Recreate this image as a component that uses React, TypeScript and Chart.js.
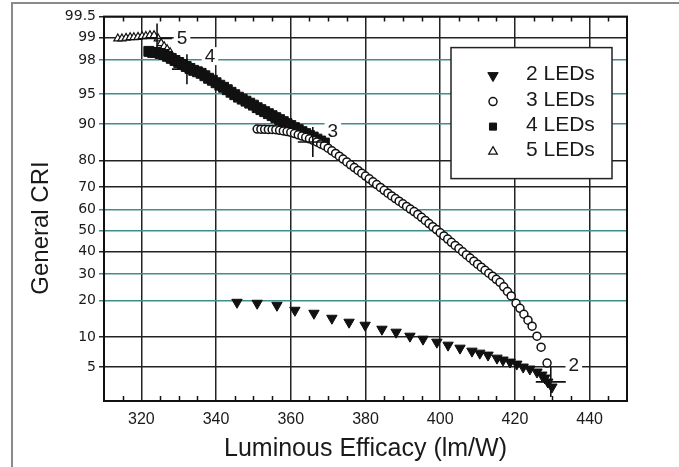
import React, { useEffect, useRef } from 'react';
import { Chart, registerables, LinearScale } from 'chart.js';
import { drawPoint } from 'chart.js/helpers';

// ---------------- data ----------------
const xTickValues = [320, 340, 360, 380, 400, 420, 440];
const yTickValues = [5, 10, 20, 30, 40, 50, 60, 70, 80, 90, 95, 98, 99, 99.5];

const leds2Efficacy = [345.6, 351.0, 356.3, 361.1, 366.2, 371.0, 375.6, 379.9, 384.4, 388.2, 391.9, 395.4, 399.1, 402.1, 405.3, 408.5, 410.6, 412.8, 415.2, 416.8, 418.7, 420.5, 422.2, 424.0, 425.9, 427.2, 428.0, 428.8, 429.9];
const leds2CRI = [19.35, 19.03, 18.38, 16.83, 15.94, 14.52, 13.46, 12.69, 11.72, 11.03, 10.15, 9.53, 8.93, 8.36, 7.82, 7.31, 6.98, 6.67, 6.21, 5.93, 5.65, 5.38, 5.0, 4.76, 4.41, 4.08, 3.78, 3.4, 2.97];

const leds3Efficacy = [351, 352, 353, 354, 355, 356, 357, 358, 359, 360, 361, 362, 363, 364, 365, 366, 367, 368, 369, 370, 371, 372, 373, 374, 375, 376, 377, 378, 379, 380, 381, 382, 383, 384, 385, 386, 387, 388, 389, 390, 391, 392, 393, 394, 395, 396, 397, 398, 399, 400, 401, 402, 403, 404, 405, 406, 407, 408, 409, 410, 411, 412, 413, 414, 415, 416, 417, 418, 419, 420.3, 421.35, 422.4, 423.5, 424.6, 425.9, 427.0, 428.6];
const leds3CRI = [88.9, 88.87, 88.84, 88.82, 88.8, 88.75, 88.61, 88.47, 88.32, 88.14, 87.85, 87.53, 87.23, 86.9, 86.51, 86.12, 85.67, 85.14, 84.64, 83.92, 83.14, 82.32, 81.44, 80.51, 79.55, 78.54, 77.55, 76.54, 75.46, 74.39, 73.29, 72.14, 70.96, 69.8, 68.57, 67.33, 66.15, 64.96, 63.8, 62.62, 61.39, 60.19, 58.99, 57.68, 56.27, 54.8, 53.32, 51.84, 50.41, 48.88, 47.4, 45.87, 44.35, 42.84, 41.38, 39.89, 38.42, 37.01, 35.57, 34.24, 32.92, 31.59, 30.32, 29.08, 27.82, 26.62, 24.88, 23.12, 21.52, 19.02, 17.44, 15.65, 13.99, 12.45, 10.15, 8.0, 5.51];

const leds4Efficacy = [322, 323, 324, 325, 326, 327, 328, 329, 330, 331, 332, 333, 334, 335, 336, 337, 338, 339, 340, 341, 342, 343, 344, 345, 346, 347, 348, 349, 350, 351, 352, 353, 354, 355, 356, 357, 358, 359, 360, 361, 362, 363, 364, 365, 366, 367, 368, 369];
const leds4CRI = [98.45, 98.4, 98.4, 98.35, 98.3, 98.2, 98.09, 97.97, 97.85, 97.72, 97.59, 97.45, 97.31, 97.2, 97.08, 96.88, 96.66, 96.48, 96.24, 95.99, 95.77, 95.5, 95.2, 94.9, 94.58, 94.31, 94.03, 93.74, 93.44, 93.04, 92.72, 92.38, 92.03, 91.67, 91.29, 90.91, 90.51, 90.1, 89.68, 89.23, 88.78, 88.31, 87.84, 87.35, 86.97, 86.45, 85.93, 85.39];

const leds5Efficacy = [313.7, 314.8, 315.9, 317.0, 318.0, 319.1, 320.2, 321.2, 322.3, 323.4, 324.5, 325.3, 326.1, 326.9, 327.7];
const leds5CRI = [98.96, 98.96, 98.98, 99.0, 99.0, 99.01, 99.03, 99.04, 99.06, 99.06, 98.96, 98.79, 98.67, 98.54, 98.4];

const crossEfficacy = [324.2, 332.2, 365.9, 429.6];
const crossCRI = [98.96, 97.4, 85.67, 3.41];
const crossLabels = ['5', '4', '3', '2'];

const seriesNames = ['2 LEDs', '3 LEDs', '4 LEDs', '5 LEDs'];

// ---------------- styles ----------------
const TEAL = '#3f8d8c';
const DARK = '#222';
const yGridColors = [DARK, DARK, TEAL, TEAL, DARK, TEAL, TEAL, DARK, DARK, TEAL, TEAL, TEAL, DARK, DARK];
const crossLabelOffsets = [[25, -1], [23, -13], [20, -11], [23, -17]];
const FONT = '"Liberation Sans", Arial, Helvetica, sans-serif';

// ---------------- probability (probit) scale ----------------
function probit(p: number): number {
  const a = [-3.969683028665376e1, 2.209460984245205e2, -2.759285104469687e2, 1.38357751867269e2, -3.066479806614716e1, 2.506628277459239];
  const b = [-5.447609879822406e1, 1.615858368580409e2, -1.556989798598866e2, 6.680131188771972e1, -1.328068155288572e1];
  const c = [-7.784894002430293e-3, -3.223964580411365e-1, -2.400758277161838, -2.549732539343734, 4.374664141464968, 2.938163982698783];
  const d = [7.784695709041462e-3, 3.224671290700398e-1, 2.445134137142996, 3.754408661907416];
  const plow = 0.02425;
  const phigh = 1 - plow;
  if (p < plow) {
    const q = Math.sqrt(-2 * Math.log(p));
    return (((((c[0] * q + c[1]) * q + c[2]) * q + c[3]) * q + c[4]) * q + c[5]) / ((((d[0] * q + d[1]) * q + d[2]) * q + d[3]) * q + 1);
  }
  if (p <= phigh) {
    const q = p - 0.5;
    const r = q * q;
    return ((((((a[0] * r + a[1]) * r + a[2]) * r + a[3]) * r + a[4]) * r + a[5]) * q) / (((((b[0] * r + b[1]) * r + b[2]) * r + b[3]) * r + b[4]) * r + 1);
  }
  const q = Math.sqrt(-2 * Math.log(1 - p));
  return -(((((c[0] * q + c[1]) * q + c[2]) * q + c[3]) * q + c[4]) * q + c[5]) / ((((d[0] * q + d[1]) * q + d[2]) * q + d[3]) * q + 1);
}

function normCdf(z: number): number {
  const t = 1 / (1 + 0.2316419 * Math.abs(z));
  const dd = 0.3989423 * Math.exp((-z * z) / 2);
  const pr = dd * t * (0.3193815 + t * (-0.3565638 + t * (1.781478 + t * (-1.821256 + t * 1.330274))));
  return z > 0 ? 1 - pr : pr;
}

class ProbitScale extends (LinearScale as any) {
  static id = 'probit';
  static defaults = {};
  determineDataLimits() {
    this.min = probit(this.options.min / 100);
    this.max = probit(this.options.max / 100);
  }
  buildTicks() {
    return yTickValues.map((v) => ({ value: v }));
  }
  getPixelForValue(value: number) {
    const z = probit(value / 100);
    return this.getPixelForDecimal((z - this._startValue) / this._valueRange);
  }
  getValueForPixel(pixel: number) {
    const z = this._startValue + this.getDecimalForPixel(pixel) * this._valueRange;
    return normCdf(z) * 100;
  }
}

Chart.register(...registerables, ProbitScale as any);

const toPoints = (xs: number[], ys: number[]) => xs.map((x, i) => ({ x, y: ys[i] }));

// ---------------- plugins ----------------
const backgroundPlugin = {
  id: 'bgFrame',
  beforeDraw(chart: any) {
    const { ctx, width, height } = chart;
    ctx.save();
    ctx.fillStyle = '#fff';
    ctx.fillRect(0, 0, width, height);
    ctx.strokeStyle = '#8a8a8a';
    ctx.lineWidth = 2;
    ctx.beginPath();
    ctx.moveTo(12, height);
    ctx.lineTo(12, 3);
    ctx.lineTo(width, 3);
    ctx.stroke();
    ctx.restore();
  },
};

const crossLabelPlugin = {
  id: 'crossLabels',
  beforeDatasetsDraw(chart: any) {
    const { ctx, scales } = chart;
    ctx.save();
    ctx.font = `19px ${FONT}`;
    ctx.textAlign = 'center';
    ctx.textBaseline = 'middle';
    crossLabels.forEach((lab, i) => {
      const px = scales.x.getPixelForValue(crossEfficacy[i]) + crossLabelOffsets[i][0];
      const py = scales.y.getPixelForValue(crossCRI[i]) + crossLabelOffsets[i][1];
      const w = ctx.measureText(lab).width;
      ctx.fillStyle = '#fff';
      ctx.fillRect(px - w / 2 - 3, py - 9, w + 6, 18);
      ctx.fillStyle = '#1a1a1a';
      ctx.fillText(lab, px, py + 1);
    });
    ctx.restore();
  },
};

const framePlugin = {
  id: 'plotFrame',
  afterDatasetsDraw(chart: any) {
    const { ctx, chartArea, scales } = chart;
    const { left, top, right, bottom } = chartArea;
    ctx.save();
    ctx.strokeStyle = '#111';
    ctx.lineWidth = 1.5;
    ctx.beginPath();
    for (let v = 315; v < 450; v += 5) {
      if (v % 20 === 0) continue;
      const px = Math.round(scales.x.getPixelForValue(v)) + 0.5;
      ctx.moveTo(px, bottom);
      ctx.lineTo(px, bottom - 5);
      ctx.moveTo(px, top);
      ctx.lineTo(px, top + 5);
    }
    ctx.stroke();
    ctx.lineWidth = 2;
    ctx.strokeRect(left, top, right - left, bottom - top);
    ctx.restore();
  },
};

const legendPlugin = {
  id: 'boxLegend',
  afterDraw(chart: any) {
    const { ctx, chartArea } = chart;
    const bx = chartArea.right - 176;
    const by = chartArea.top + 31;
    const bw = 161;
    const bh = 131;
    ctx.save();
    ctx.fillStyle = '#fff';
    ctx.fillRect(bx, by, bw, bh);
    ctx.strokeStyle = '#222';
    ctx.lineWidth = 1.5;
    ctx.strokeRect(bx, by, bw, bh);
    const rowsY = [27, 53, 78, 103];
    const legendRadius = [6, 4, 5, 5];
    ctx.font = `21px ${FONT}`;
    ctx.textAlign = 'left';
    ctx.textBaseline = 'middle';
    seriesNames.forEach((name, i) => {
      const ds = chart.data.datasets[i + 1];
      const my = by + rowsY[i];
      ctx.fillStyle = ds.backgroundColor;
      ctx.strokeStyle = ds.borderColor;
      ctx.lineWidth = ds.pointBorderWidth;
      drawPoint(ctx, { pointStyle: ds.pointStyle, rotation: ds.pointRotation || 0, radius: legendRadius[i], borderWidth: ds.pointBorderWidth }, bx + 42, my + 1);
      ctx.fillStyle = '#1a1a1a';
      ctx.fillText(name, bx + 75, my);
    });
    ctx.restore();
  },
};

const yTitlePlugin = {
  id: 'yTitle',
  afterDraw(chart: any) {
    const { ctx } = chart;
    ctx.save();
    ctx.translate(41, 228);
    ctx.rotate(-Math.PI / 2);
    ctx.font = `24px ${FONT}`;
    ctx.fillStyle = '#1a1a1a';
    ctx.textAlign = 'center';
    ctx.textBaseline = 'middle';
    ctx.fillText('General CRI', 0, 0);
    ctx.restore();
  },
};

export default function App() {
  const canvasRef = useRef<HTMLCanvasElement | null>(null);

  useEffect(() => {
    if (!canvasRef.current) return;
    const chart = new Chart(canvasRef.current, {
      type: 'scatter',
      data: {
        datasets: [
          {
            label: 'markers',
            data: toPoints(crossEfficacy, crossCRI),
            pointStyle: 'cross',
            pointRadius: 15,
            pointBorderWidth: 1.6,
            borderColor: '#111',
            backgroundColor: '#111',
          },
          {
            label: seriesNames[0],
            data: toPoints(leds2Efficacy, leds2CRI),
            pointStyle: 'triangle',
            pointRotation: 180,
            pointRadius: 6,
            pointBorderWidth: 1,
            backgroundColor: '#111',
            borderColor: '#111',
          },
          {
            label: seriesNames[1],
            data: toPoints(leds3Efficacy, leds3CRI),
            pointStyle: 'circle',
            pointRadius: 4,
            pointBorderWidth: 1.5,
            backgroundColor: '#fff',
            borderColor: '#111',
          },
          {
            label: seriesNames[2],
            data: toPoints(leds4Efficacy, leds4CRI),
            pointStyle: 'rect',
            pointRadius: 7,
            pointBorderWidth: 1,
            backgroundColor: '#111',
            borderColor: '#111',
          },
          {
            label: seriesNames[3],
            data: toPoints(leds5Efficacy, leds5CRI),
            pointStyle: 'triangle',
            pointRadius: 4.6,
            pointBorderWidth: 1.2,
            backgroundColor: '#fff',
            borderColor: '#111',
          },
        ],
      } as any,
      options: {
        animation: false,
        responsive: false,
        events: [],
        layout: { padding: { top: 15, right: 52, left: 0, bottom: 0 } },
        plugins: {
          legend: { display: false },
          tooltip: { enabled: false },
          title: { display: false },
        },
        scales: {
          x: {
            type: 'linear',
            min: 310,
            max: 450,
            afterFit: (s: any) => {
              s.height = 66;
            },
            afterBuildTicks: (s: any) => {
              s.ticks = xTickValues.map((v) => ({ value: v }));
            },
            grid: { color: DARK, lineWidth: 1.5, drawTicks: false },
            border: { display: false },
            ticks: {
              padding: 9,
              color: '#1a1a1a',
              font: { family: FONT, size: 16 },
              callback: (v: any) => String(v),
            },
            title: {
              display: true,
              text: 'Luminous Efficacy (lm/W)',
              color: '#1a1a1a',
              font: { family: FONT, size: 25 },
              padding: { top: 0, bottom: 3 },
            },
          },
          y: {
            type: 'probit' as any,
            min: 2,
            max: 99.5,
            afterFit: (s: any) => {
              s.width = 104;
            },
            grid: {
              color: (c: any) => yGridColors[c.index] || DARK,
              lineWidth: 1.5,
              drawTicks: true,
              tickLength: 5,
            },
            border: { display: false },
            ticks: {
              autoSkip: false,
              padding: 3,
              color: '#1a1a1a',
              font: { family: '"DejaVu Sans", sans-serif', size: 14 },
              callback: (v: any) => String(v),
            },
          },
        } as any,
      },
      plugins: [backgroundPlugin, crossLabelPlugin, framePlugin, legendPlugin, yTitlePlugin],
    } as any);
    return () => chart.destroy();
  }, []);

  return (
    <div style={{ position: 'fixed', left: 0, top: 0, width: 679, height: 467, background: '#fff' }}>
      <canvas ref={canvasRef} width={679} height={467} style={{ display: 'block' }} />
    </div>
  );
}
